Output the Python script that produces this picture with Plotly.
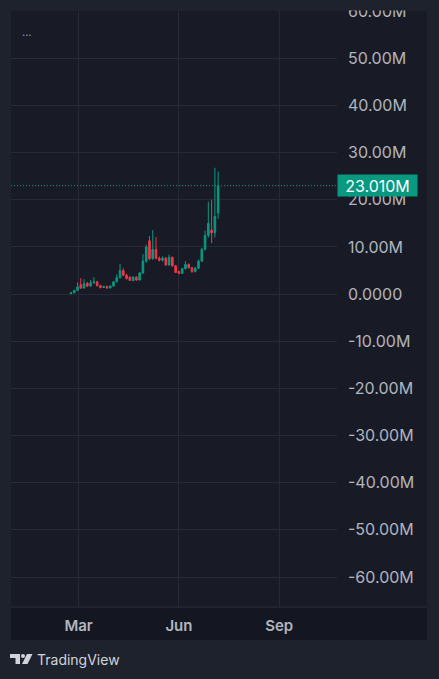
import pandas as pd
import plotly.graph_objects as go

# 3-day candles, values in millions
dates = pd.date_range("2024-02-23", periods=46, freq="3D")
opens = [0.1, 0.3, 0.8, 2.0, 1.3, 2.3, 1.7, 2.4, 2.6, 1.8,
         1.4, 1.6, 1.3, 1.7, 2.6, 3.5, 5.0, 4.0, 3.6, 2.9,
         3.6, 3.0, 4.5, 7.0, 11.3, 7.5, 9.5, 7.6, 7.2, 7.6,
         6.2, 7.8, 6.0, 4.8, 4.4, 5.4, 6.3, 5.6, 4.8, 5.5,
         7.0, 9.5, 12.5, 13.6, 13.0, 17.2]
highs = [0.4, 0.9, 2.5, 3.4, 3.2, 2.6, 3.0, 3.6, 2.8, 2.0,
         1.8, 1.8, 1.9, 2.8, 4.2, 6.4, 5.5, 4.3, 3.8, 3.8,
         3.8, 4.7, 8.5, 10.5, 12.3, 13.6, 12.1, 8.0, 8.0, 7.9,
         8.4, 8.0, 6.2, 5.0, 5.6, 7.0, 6.5, 5.8, 5.8, 7.3,
         9.8, 13.5, 19.6, 20.0, 26.8, 26.0]
lows = [0.0, 0.2, 0.7, 1.1, 1.2, 1.5, 1.6, 2.2, 1.6, 1.2,
        1.3, 1.2, 1.2, 1.6, 2.5, 3.3, 3.8, 3.1, 2.8, 2.7,
        2.8, 2.9, 4.3, 6.6, 7.2, 7.3, 7.4, 6.9, 6.9, 6.0,
        6.0, 5.8, 4.5, 4.2, 4.3, 5.2, 5.4, 4.5, 4.6, 5.3,
        6.8, 9.2, 12.0, 10.8, 12.0, 16.0]
closes = [0.3, 0.8, 1.5, 1.3, 2.2, 1.7, 2.4, 2.6, 1.8, 1.4,
          1.6, 1.3, 1.7, 2.6, 3.5, 5.0, 4.0, 3.3, 2.9, 3.6,
          3.0, 4.5, 7.0, 10.0, 7.5, 9.5, 7.6, 7.2, 7.6, 6.2,
          7.8, 6.0, 4.6, 4.4, 5.4, 6.3, 5.6, 4.8, 5.5, 7.0,
          9.5, 12.5, 15.0, 13.0, 16.5, 23.01]

last_price = 23.01
y_ticks = list(range(-60, 61, 10))
y_labels = ["0.0000" if v == 0 else f"{v:.2f}M" for v in y_ticks]
x_ticks = ["2024-03-01", "2024-06-01", "2024-09-01"]
x_labels = ["Mar", "Jun", "Sep"]

UP = "#089981"
DOWN = "#f23645"
OUTER = "#1e222d"
PANEL = "#181b26"
STRIP = "#141722"
GRID = "#262a36"
TEXT = "#b2b5be"

W, H = 439, 679
L, R, T, B = 11, 337, 11, 607   # plot pane in pixels


def px_x(p):
    return (p - L) / (R - L)


def px_y(p):
    return (B - p) / (B - T)


fig = go.Figure(go.Candlestick(
    x=dates, open=opens, high=highs, low=lows, close=closes,
    increasing=dict(line=dict(color=UP, width=1), fillcolor=UP),
    decreasing=dict(line=dict(color=DOWN, width=1), fillcolor=DOWN),
    hoverinfo="skip"))

shapes = [
    # whole chart panel
    dict(type="rect", xref="paper", yref="paper", layer="below",
         x0=px_x(11), x1=px_x(427), y0=px_y(640), y1=px_y(11),
         fillcolor=PANEL, line=dict(width=0)),
    # time axis strip
    dict(type="rect", xref="paper", yref="paper", layer="below",
         x0=px_x(11), x1=px_x(427), y0=px_y(640), y1=px_y(608),
         fillcolor=STRIP, line=dict(width=0)),
    dict(type="line", xref="paper", yref="paper", layer="above",
         x0=px_x(11), x1=px_x(427), y0=0, y1=0,
         line=dict(color="#2a2e39", width=1)),
    # clip the top label
    dict(type="rect", xref="paper", yref="paper", layer="above",
         x0=px_x(0), x1=px_x(439), y0=px_y(10.5), y1=px_y(0),
         fillcolor=OUTER, line=dict(width=0)),
    # last price line
    dict(type="line", xref="paper", yref="y", layer="above",
         x0=0, x1=1, y0=last_price, y1=last_price,
         line=dict(color=UP, width=1, dash="1px,2px")),
    # TradingView logo
    dict(type="path", xref="paper", yref="paper", layer="above",
         path=f"M{px_x(10)},{px_y(654)} L{px_x(20)},{px_y(654)} L{px_x(20)},{px_y(664)} "
              f"L{px_x(15.5)},{px_y(664)} L{px_x(15.5)},{px_y(658)} L{px_x(10)},{px_y(658)} Z",
         fillcolor="#d1d4dc", line=dict(width=0)),
    dict(type="circle", xref="paper", yref="paper", layer="above",
         x0=px_x(21), x1=px_x(25), y0=px_y(658), y1=px_y(654),
         fillcolor="#d1d4dc", line=dict(width=0)),
    dict(type="path", xref="paper", yref="paper", layer="above",
         path=f"M{px_x(27)},{px_y(654)} L{px_x(32.5)},{px_y(654)} L{px_x(27.5)},{px_y(664)} "
              f"L{px_x(22)},{px_y(664)} Z",
         fillcolor="#d1d4dc", line=dict(width=0)),
]

annotations = [
    dict(x=1, xref="paper", y=last_price, yref="y", xanchor="left", yanchor="middle",
         xshift=0, text="23.010M", showarrow=False, bgcolor=UP, width=77, height=19,
         borderpad=1, align="center",
         font=dict(family="Inter, Roboto, sans-serif", size=16, color="#ffffff")),
    dict(x=px_x(20), xref="paper", y=px_y(32), yref="paper", xanchor="left",
         yanchor="middle", text="...", showarrow=False,
         font=dict(family="Inter, sans-serif", size=11, color="#9598a1")),
    dict(x=px_x(35), xref="paper", y=px_y(659), yref="paper", xanchor="left",
         yanchor="middle", text="TradingView", showarrow=False,
         font=dict(family="Inter, Roboto, sans-serif", size=14, color="#d1d4dc")),
]

fig.update_layout(
    width=W, height=H,
    margin=dict(l=L, r=W - R, t=T, b=H - B, autoexpand=False),
    paper_bgcolor=OUTER, plot_bgcolor=PANEL,
    showlegend=False, dragmode=False,
    shapes=shapes, annotations=annotations,
    xaxis=dict(
        type="date", range=["2023-12-30", "2024-10-24"], automargin=False,
        rangeslider=dict(visible=False),
        tickmode="array", tickvals=x_ticks, ticktext=x_labels,
        showgrid=True, gridcolor=GRID, gridwidth=1,
        zeroline=False, showline=False, ticks="", ticklabelstandoff=8,
        tickfont=dict(family="Inter, Roboto, sans-serif", size=15, color=TEXT, weight=600)),
    yaxis=dict(
        side="right", range=[-66.36, 60.05], automargin=False,
        tickmode="array", tickvals=y_ticks, ticktext=y_labels,
        showgrid=True, gridcolor=GRID, gridwidth=1,
        zeroline=False, showline=False, ticks="", ticklabelstandoff=10,
        tickfont=dict(family="Inter, Roboto, sans-serif", size=16, color=TEXT)),
)

fig.write_html("out.html", config={"displayModeBar": False},
               post_script="document.body.style.margin='0';")
